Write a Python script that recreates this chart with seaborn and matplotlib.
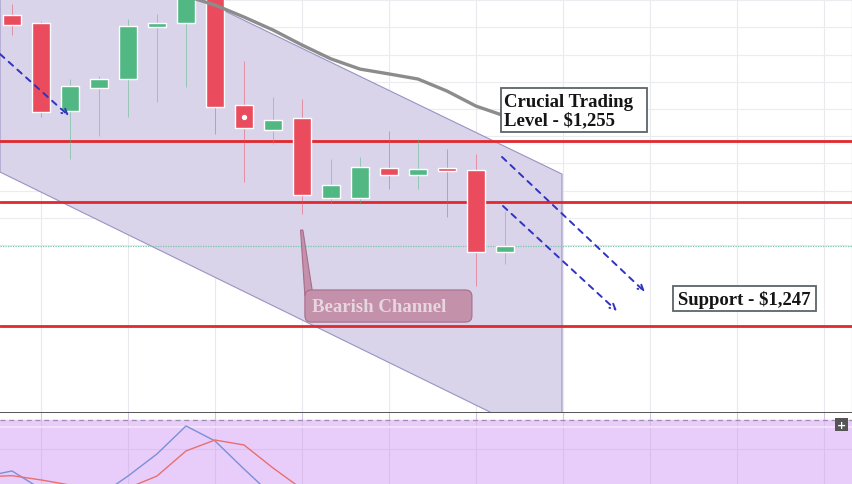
import numpy as np
import pandas as pd
import seaborn as sns
import matplotlib.pyplot as plt
from matplotlib.patches import Polygon, Rectangle, FancyBboxPatch

# candle data (index, open, high, low, close)
candle_idx = list(range(18))
opens = [1260.45, 1260.10, 1256.30, 1257.29, 1257.68, 1259.93, 1260.10, 1261.57, 1256.56,
         1255.48, 1255.99, 1252.54, 1252.54, 1253.83, 1253.53, 1253.83, 1253.75, 1250.20]
highs = [1260.92, 1260.19, 1257.68, 1257.80, 1260.28, 1260.49, 1261.70, 1261.80, 1258.46,
         1256.90, 1256.82, 1254.22, 1254.31, 1255.43, 1255.09, 1254.65, 1254.44, 1251.97]
lows = [1259.58, 1256.04, 1254.22, 1255.22, 1256.04, 1256.69, 1257.34, 1255.30, 1253.23,
        1254.87, 1251.84, 1252.28, 1252.28, 1252.92, 1252.92, 1251.71, 1248.73, 1249.68]
closes = [1260.02, 1256.25, 1257.38, 1257.68, 1259.97, 1260.10, 1261.49, 1256.47, 1255.56,
          1255.91, 1252.66, 1253.10, 1253.88, 1253.53, 1253.79, 1253.70, 1250.20, 1250.46]

# moving average
ma_idx = [6, 7, 8, 9, 10, 11, 12, 13, 14, 15, 16, 17]
ma_val = [1261.27, 1260.88, 1260.36, 1259.80, 1259.15, 1258.55, 1258.11, 1257.90,
          1257.68, 1257.16, 1256.51, 1256.08]

# stochastic oscillator (lower panel)
stoch_idx = [-1, 0, 1, 2, 3, 4, 5, 6, 7, 8, 9, 10]
stoch_k = [36.2, 40.8, 26.9, 19.2, 21.5, 36.9, 53.9, 75.4, 63.9, 42.3, 21.5, 15.0]
stoch_d = [36.2, 37.2, 33.9, 30.0, 26.9, 27.7, 36.9, 56.2, 64.6, 60.8, 43.1, 26.9]

# key levels
levels = [1255.00, 1252.36, 1247.00]
last_price = 1250.46

# channel (index, price)
channel_x = [-0.414, 6.483, 18.966, 18.966, 16.552, -0.414]
channel_y = [1261.14, 1261.14, 1253.57, 1243.24, 1243.24, 1253.66]

# projection arrows (start x, start y, end x, end y)
arrows = [(-0.414, 1258.76, 1.966, 1256.08),
          (16.897, 1254.31, 21.828, 1248.47),
          (16.931, 1252.19, 20.862, 1247.65)]

RED = "#ea4c5d"
GREEN = "#52b883"

sns.set_style("white")
plt.rcParams["font.family"] = ["Liberation Serif", "DejaVu Serif"]

df = pd.DataFrame({"i": candle_idx, "open": opens, "high": highs, "low": lows, "close": closes})
df["up"] = df["close"] >= df["open"]
df["color"] = np.where(df["up"], GREEN, RED)

fig = plt.figure(figsize=(8.52, 4.85), dpi=100)
ax = fig.add_axes([0, 71 / 485, 1, 414 / 485])
ax2 = fig.add_axes([0, 0, 1, 71 / 485])

xlim = (-0.414, 28.966)
ax.set_xlim(*xlim)
ax.set_ylim(1243.24, 1261.14)

# grid
for x in np.arange(1, 29, 3):
    ax.axvline(x, color="#e9e9ee", lw=0.8, zorder=0)
    ax2.axvline(x, color="#d9c0ea", lw=0.8, zorder=1)
for y in 1256.38 + 1.176 * np.arange(-5, 12):
    ax.axhline(y, color="#ececf0", lw=0.8, zorder=0)

# bearish channel
ax.add_patch(Polygon(list(zip(channel_x, channel_y)), closed=True, facecolor="#d9d4ea",
                     edgecolor="#9a92c4", lw=0.8, zorder=1))

# level lines
for lv in levels:
    ax.axhline(lv, color="#e0282e", lw=2.0, zorder=3)
ax.axhline(last_price, color="#7fc4ad", lw=0.9, ls=(0, (1, 1)), zorder=3)

# candles
ax.vlines(df["i"], df["low"], df["high"], colors=df["color"], lw=0.7, alpha=0.5, zorder=4)
ax.bar(df["i"], df["close"] - df["open"], bottom=df["open"], width=0.62,
       color=df["color"], zorder=5)
ax.scatter([8], [1256.04], s=8, color="white", zorder=6)

# moving average
sns.lineplot(x=ma_idx, y=ma_val, ax=ax, color="#8c8c8c", lw=2.4, zorder=6)

# arrows
for x0, y0, x1, y1 in arrows:
    ax.annotate("", xy=(x1, y1), xytext=(x0, y0),
                arrowprops=dict(arrowstyle="->", color="#2f33c4", lw=1.4, ls=(0, (3, 3)),
                                shrinkA=0, shrinkB=0), zorder=6)

# labels
ax.add_patch(Rectangle((16.86, 1255.39), 5.03, 1.90, fc="white", ec="#5c6468", lw=1.3, zorder=7))
ax.text(16.97, 1256.30, "Crucial Trading\nLevel - $1,255", fontsize=13.5, fontweight="bold",
        color="#151515", ha="left", va="center", linespacing=1.12, zorder=8)

ax.add_patch(Rectangle((22.79, 1247.65), 4.93, 1.08, fc="white", ec="#5c6468", lw=1.3, zorder=7))
ax.text(25.26, 1248.17, "Support - $1,247", fontsize=13.5, fontweight="bold", color="#151515",
        ha="center", va="center", zorder=8)

ax.add_patch(Polygon([(9.95, 1251.15), (10.03, 1251.15), (10.35, 1248.56), (10.10, 1248.30)],
                     closed=True, fc="#c391aa", ec="#a86c8c", lw=0.8, zorder=7))
ax.add_patch(FancyBboxPatch((10.10, 1247.17), 5.76, 1.39,
                            boxstyle="round,pad=0,rounding_size=0.22", mutation_aspect=1.25,
                            fc="#c391aa", ec="#a86c8c", lw=0.8, zorder=7))
ax.text(10.34, 1247.85, "Bearish Channel", fontsize=13.5, fontweight="bold", color="#e6d6e0",
        ha="left", va="center", zorder=8)

ax.set_xticks([])
ax.set_yticks([])
for s in ["top", "left"]:
    ax.spines[s].set_visible(False)
ax.spines["bottom"].set_color("#555")
ax.spines["bottom"].set_linewidth(1.4)
ax.spines["right"].set_color("#999")

# lower panel
ax2.set_xlim(*xlim)
ax2.set_ylim(30.77, 85.38)
ax2.axhspan(20, 80, color="#e8cdfb", zorder=0)
ax2.axhline(80, color="#9c8fa8", lw=0.9, ls=(0, (4, 3)), zorder=2)
ax2.axhline(74.6, color="#f5e6f8", lw=1.2, zorder=2)
ax2.axhline(57.7, color="#dcc2ea", lw=0.8, zorder=1)
sns.lineplot(x=stoch_idx, y=stoch_k, ax=ax2, color="#7b8fd6", lw=1.0, zorder=3)
sns.lineplot(x=stoch_idx, y=stoch_d, ax=ax2, color="#e86f6f", lw=1.0, zorder=3)
ax2.text(28.6, 76.4, "+", fontsize=8, color="white", ha="center", va="center",
         family="DejaVu Sans", fontweight="bold",
         bbox=dict(boxstyle="square,pad=0.15", fc="#555", ec="none"))
ax2.set_xticks([])
ax2.set_yticks([])
for s in ax2.spines.values():
    s.set_visible(False)

fig.savefig("out.png", dpi=100)
